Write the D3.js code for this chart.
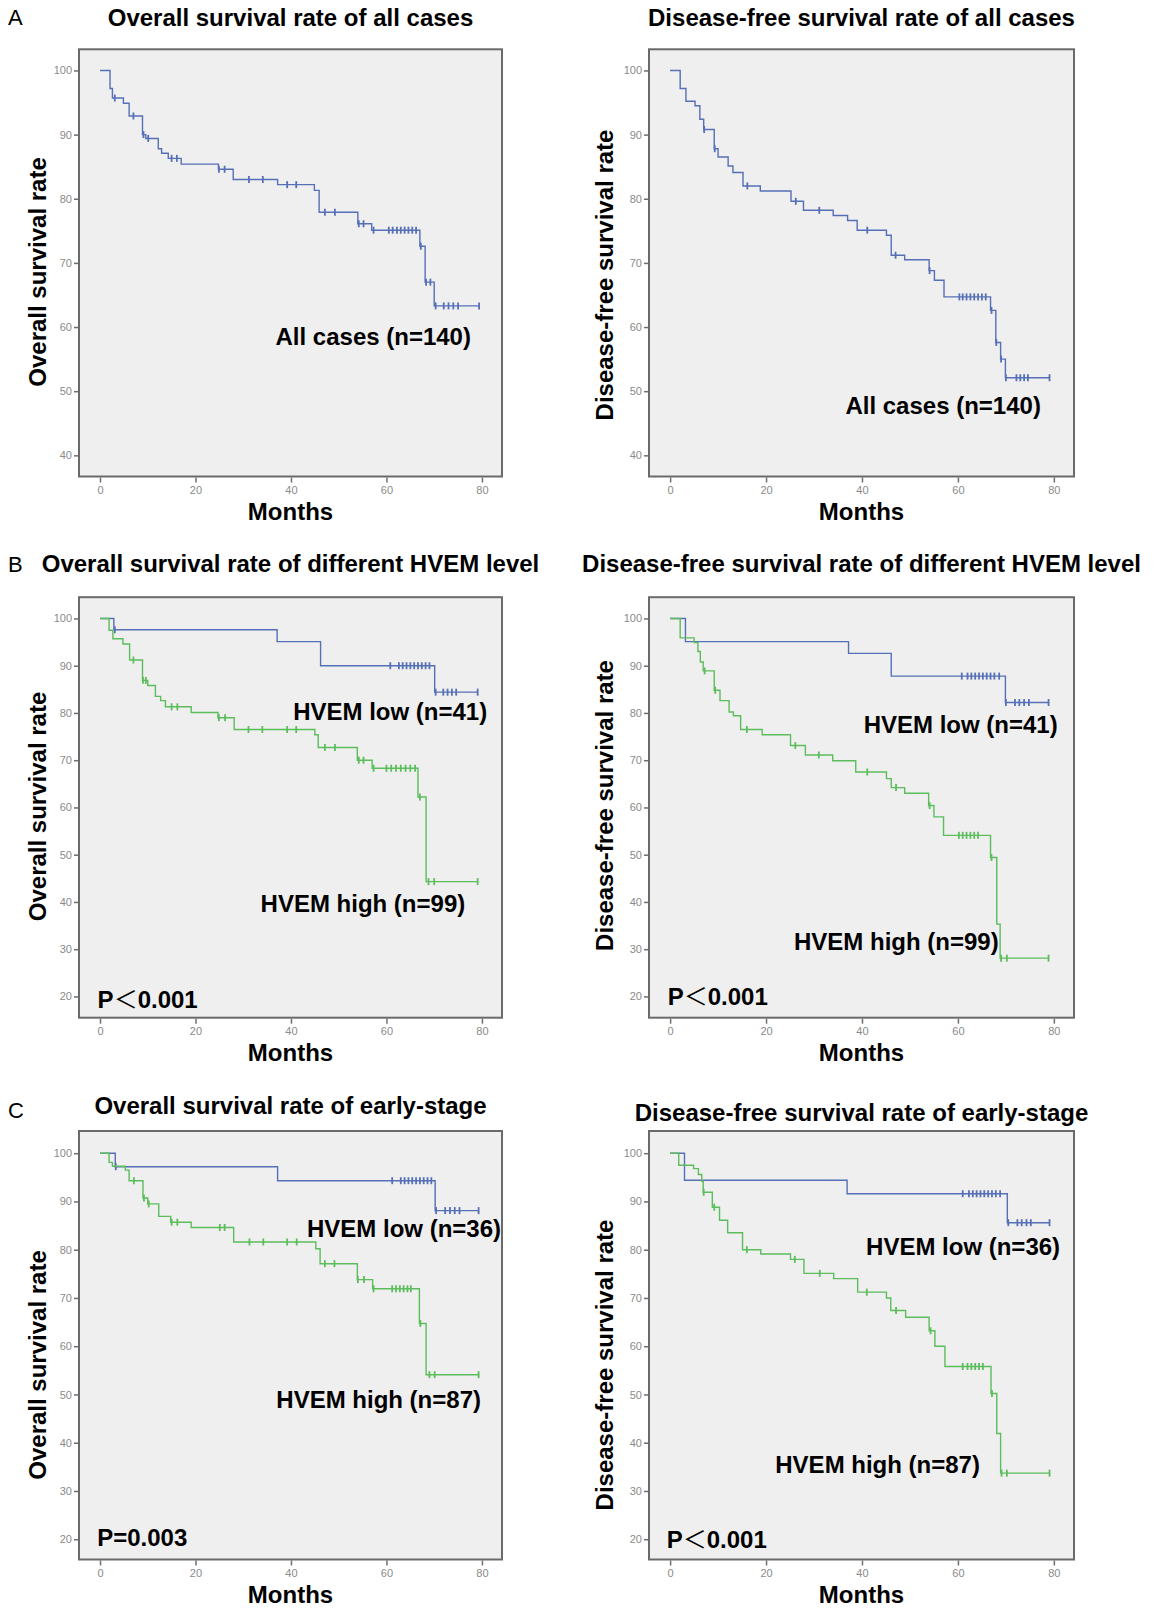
<!DOCTYPE html>
<html>
<head>
<meta charset="utf-8">
<script src="https://cdn.jsdelivr.net/npm/d3@7"></script>
<style>
  body { margin: 0; background: #fff; }
  svg text { font-family: "Liberation Sans", Arial, sans-serif; }
</style>
</head>
<body>
<svg id="fig"></svg>
<script>
// ---- data: [month, survival %] after each drop, plus censor times ----
const monthTicks = [0, 20, 40, 60, 80];
const rateTicksAll = [40, 50, 60, 70, 80, 90, 100];
const rateTicksGroup = [20, 30, 40, 50, 60, 70, 80, 90, 100];

// A: all cases
const osAllSteps = [[0,100],[2.1,97.2],[2.6,95.7],[4.9,94.9],[6.1,92.9],[8.9,90.0],[9.6,89.4],[12.2,87.8],[12.9,87.1],[14.3,86.3],[17.0,85.4],[24.8,84.6],[27.9,83.0],[37.2,82.2],[44.9,81.3],[45.9,77.9],[54.0,76.1],[56.9,75.1],[67.0,72.6],[68.1,67.0],[70.0,63.3]];
const osAllCensor = [3.1,7.0,9.1,10.1,15.0,16.1,24.9,26.1,31.2,34.1,39.2,41.1,47.1,49.2,54.2,55.2,57.3,60.5,61.3,62.2,63.0,63.8,64.6,65.4,66.2,67.2,68.3,69.2,70.3,72.0,73.0,74.0,75.0,79.4];
const dfsAllSteps = [[0,100],[2.1,97.2],[3.3,95.2],[5.2,94.5],[6.2,92.4],[7.0,90.8],[9.2,87.8],[10.0,86.5],[12.1,85.1],[13.1,84.1],[15.2,82.0],[18.8,81.2],[25.2,79.6],[27.8,78.2],[34.0,77.4],[37.0,76.6],[39.0,75.1],[45.1,74.3],[46.1,71.2],[48.9,70.5],[54.0,68.8],[55.1,67.3],[57.1,64.7],[66.8,62.6],[67.9,57.6],[68.9,55.0],[69.9,52.1]];
const dfsAllCensor = [7.1,9.3,16.1,26.2,31.1,41.1,47.0,54.1,60.3,61.0,61.8,62.6,63.4,64.2,65.0,65.8,67.0,68.0,69.0,70.0,72.2,73.0,73.8,74.6,79.1];

// B: HVEM low / high, all cases
const osLowSteps = [[0,100],[2.9,97.6],[37.1,95.1],[46.2,90.0],[70.1,84.4]];
const osLowCensor = [3.1,60.8,62.6,63.4,64.2,65.0,65.8,66.6,67.4,68.2,69.0,70.3,71.9,72.8,73.7,74.6,79.1];
const osHighSteps = [[0,100],[1.9,97.5],[2.7,95.7],[4.8,94.6],[6.2,91.2],[8.9,86.9],[10.0,85.8],[11.6,83.5],[12.7,82.6],[13.7,81.3],[19.1,80.1],[24.7,79.0],[28.1,76.5],[45.0,75.4],[45.7,72.7],[53.9,70.0],[57.0,68.3],[66.6,62.2],[68.3,44.3]];
const osHighCensor = [7.0,9.0,9.6,15.0,16.2,24.9,26.2,31.1,34.0,39.2,41.1,47.1,49.2,54.2,55.2,57.3,60.0,61.0,62.0,63.0,64.0,65.0,66.0,67.0,68.8,70.0,79.1];
const dfsLowSteps = [[0,100],[3.2,95.1],[37.2,92.6],[46.1,87.8],[69.9,82.2]];
const dfsLowCensor = [60.8,62.0,62.8,63.6,64.4,65.2,66.0,66.8,67.6,68.6,70.0,71.9,72.8,73.8,74.8,78.9];
const dfsHighSteps = [[0,100],[2.1,95.9],[5.0,94.9],[5.8,93.0],[6.3,90.8],[6.9,88.9],[9.2,84.8],[10.4,82.6],[12.3,80.2],[13.2,79.4],[14.7,76.5],[19.2,75.4],[25.1,73.1],[28.2,71.1],[33.9,69.9],[38.7,67.5],[45.1,66.1],[46.1,64.2],[48.9,63.0],[53.9,60.4],[55.0,58.0],[57.0,54.1],[66.8,49.4],[68.1,35.3],[68.8,28.1]];
const dfsHighCensor = [7.2,9.4,16.0,26.1,31.0,41.1,47.1,54.1,60.2,61.0,61.8,62.6,63.4,64.2,67.0,69.0,70.2,78.9];

// C: early-stage
const earlyOsLowSteps = [[0,100],[3.2,97.2],[37.2,94.3],[70.2,88.1]];
const earlyOsLowCensor = [3.3,61.2,63.0,63.8,64.6,65.4,66.2,67.0,67.8,68.6,69.4,70.4,72.3,73.3,74.3,75.3,79.3];
const earlyOsHighSteps = [[0,100],[1.9,98.1],[2.6,97.3],[5.3,96.5],[6.1,94.3],[9.0,90.7],[10.0,89.5],[12.3,86.9],[14.8,85.7],[19.1,84.6],[28.0,81.6],[45.2,80.2],[46.1,77.1],[53.9,73.8],[57.1,71.9],[66.9,64.7],[68.3,54.1]];
const earlyOsHighCensor = [7.1,9.2,10.2,15.0,16.2,25.1,26.1,31.3,34.2,39.2,41.2,47.1,49.1,54.0,55.3,57.3,61.2,62.0,62.8,63.6,64.4,65.1,67.1,69.0,70.1,79.3];
const earlyDfsLowSteps = [[0,100],[3.0,94.4],[36.9,91.6],[70.3,85.6]];
const earlyDfsLowCensor = [61.0,62.3,63.1,63.9,64.7,65.5,66.3,67.1,67.9,68.8,70.5,72.4,73.3,74.3,75.2,79.1];
const earlyDfsHighSteps = [[0,100],[1.8,97.5],[4.9,96.8],[5.9,95.6],[6.6,94.2],[6.9,91.9],[8.8,88.8],[10.3,86.1],[12.0,83.5],[15.1,80.0],[18.9,79.1],[25.1,78.0],[27.9,75.1],[34.1,74.0],[39.1,71.2],[45.1,70.0],[46.0,67.4],[49.1,66.0],[54.0,63.2],[55.2,60.0],[57.3,55.8],[66.9,50.2],[68.1,41.9],[68.9,33.7]];
const earlyDfsHighCensor = [7.0,9.2,16.0,26.0,31.2,41.0,47.1,54.3,61.0,62.0,62.8,63.6,64.4,65.2,67.1,69.1,70.2,79.1];

// ---- layout / style ----
const blue = "#5670b8";
const green = "#5cbd5c";
const monthDomain = [-4.4, 84.2];
const leftX = 79, rightX = 649;
const rowA = { y: 49.3, h: 427.2, domain: [36.7, 103.3] };
const rowB = { y: 597.2, h: 420.5, domain: [15.5, 104.5] };
const rowC = { y: 1131, h: 428.5, domain: [15.8, 104.6] };

const panels = [
  { x: leftX, w: 423, row: rowA, ticks: rateTicksAll, letter: "A", letterY: 25,
    title: "Overall survival rate of all cases", titleY: 25.5,
    yLabel: "Overall survival rate", yLabelX: 45.6, yLabelY: 272,
    series: [{ steps: osAllSteps, censor: osAllCensor, end: 79.4, color: blue }],
    notes: [{ text: "All cases (n=140)", at: [77.7, 57.2] }] },
  { x: rightX, w: 425, row: rowA, ticks: rateTicksAll,
    title: "Disease-free survival rate of all cases", titleY: 25.5,
    yLabel: "Disease-free survival rate", yLabelX: 612.6, yLabelY: 275,
    series: [{ steps: dfsAllSteps, censor: dfsAllCensor, end: 79.1, color: blue }],
    notes: [{ text: "All cases (n=140)", at: [77.3, 46.4] }] },
  { x: leftX, w: 423, row: rowB, ticks: rateTicksGroup, letter: "B", letterY: 571.5,
    title: "Overall survival rate of different HVEM level", titleY: 572,
    yLabel: "Overall survival rate", yLabelX: 45.6, yLabelY: 806.5,
    series: [
      { steps: osLowSteps, censor: osLowCensor, end: 79.1, color: blue },
      { steps: osHighSteps, censor: osHighCensor, end: 79.1, color: green }],
    notes: [{ text: "HVEM low (n=41)", at: [81.1, 78.5] },
            { text: "HVEM high (n=99)", at: [76.5, 37.9] }],
    pText: ["P", "＜", "0.001"], pAt: [-0.5, 17.5] },
  { x: rightX, w: 425, row: rowB, ticks: rateTicksGroup,
    title: "Disease-free survival rate of different HVEM level", titleY: 572,
    yLabel: "Disease-free survival rate", yLabelX: 612.6, yLabelY: 805.5,
    series: [
      { steps: dfsLowSteps, censor: dfsLowCensor, end: 79.0, color: blue },
      { steps: dfsHighSteps, censor: dfsHighCensor, end: 78.9, color: green }],
    notes: [{ text: "HVEM low (n=41)", at: [80.8, 75.8] },
            { text: "HVEM high (n=99)", at: [68.5, 29.9] }],
    pText: ["P", "＜", "0.001"], pAt: [-0.5, 18.1] },
  { x: leftX, w: 423, row: rowC, ticks: rateTicksGroup, letter: "C", letterY: 1118,
    title: "Overall survival rate of early-stage", titleY: 1114,
    yLabel: "Overall survival rate", yLabelX: 45.6, yLabelY: 1365,
    series: [
      { steps: earlyOsLowSteps, censor: earlyOsLowCensor, end: 79.3, color: blue },
      { steps: earlyOsHighSteps, censor: earlyOsHighCensor, end: 79.3, color: green }],
    notes: [{ text: "HVEM low (n=36)", at: [84.0, 82.7] },
            { text: "HVEM high (n=87)", at: [79.8, 47.1] }],
    pText: ["P=0.003"], pAt: [-0.6, 18.5] },
  { x: rightX, w: 425, row: rowC, ticks: rateTicksGroup,
    title: "Disease-free survival rate of early-stage", titleY: 1120.5,
    yLabel: "Disease-free survival rate", yLabelX: 612.6, yLabelY: 1365,
    series: [
      { steps: earlyDfsLowSteps, censor: earlyDfsLowCensor, end: 79.1, color: blue },
      { steps: earlyDfsHighSteps, censor: earlyDfsHighCensor, end: 79.1, color: green }],
    notes: [{ text: "HVEM low (n=36)", at: [81.3, 79.0] },
            { text: "HVEM high (n=87)", at: [64.6, 33.7] }],
    pText: ["P", "＜", "0.001"], pAt: [-0.7, 18.25] },
];

const svg = d3.select("#fig").attr("width", 1157).attr("height", 1612);
svg.append("rect").attr("width", 1157).attr("height", 1612).attr("fill", "#fff");

const stepLine = d3.line().curve(d3.curveStepAfter);

// value of the step function at time t (drops at t are already applied)
function stepValue(steps, t) {
  let v = steps[0][1];
  steps.forEach(([s, val]) => { if (s <= t) v = val; });
  return v;
}

function styleAxis(g) {
  g.select(".domain").remove();
  g.selectAll(".tick line").attr("stroke", "#6e6e6e").attr("stroke-width", 1.5);
  g.selectAll(".tick text")
    .attr("fill", "#8a8a8a")
    .style("font-size", "11px")
    .style("font-family", "'Liberation Sans Narrow', 'Liberation Sans', Arial, sans-serif");
}

panels.forEach((p) => {
  const top = p.row.y, h = p.row.h;
  const xScale = d3.scaleLinear().domain(monthDomain).range([p.x, p.x + p.w]);
  const yScale = d3.scaleLinear().domain(p.row.domain).range([top + h, top]);
  const g = svg.append("g");

  // plot background
  g.append("rect")
    .attr("x", p.x).attr("y", top).attr("width", p.w).attr("height", h)
    .attr("fill", "#efefef");

  // survival curves + censor marks
  p.series.forEach((s) => {
    const last = s.steps[s.steps.length - 1][1];
    const pts = s.steps.concat([[s.end, last]]);
    g.append("path")
      .attr("d", stepLine(pts.map((d) => [xScale(d[0]), yScale(d[1])])))
      .attr("fill", "none")
      .attr("stroke", s.color)
      .attr("stroke-width", 1.4);

    g.append("g").selectAll("line")
      .data(s.censor)
      .join("line")
      .attr("x1", (t) => xScale(t)).attr("x2", (t) => xScale(t))
      .attr("y1", (t) => yScale(stepValue(s.steps, t)) - 3.5)
      .attr("y2", (t) => yScale(stepValue(s.steps, t)) + 3.5)
      .attr("stroke", s.color)
      .attr("stroke-width", 1.8);
  });

  // frame
  g.append("rect")
    .attr("x", p.x).attr("y", top).attr("width", p.w).attr("height", h)
    .attr("fill", "none").attr("stroke", "#6a6a6a").attr("stroke-width", 2);

  // axes
  g.append("g")
    .attr("transform", `translate(0,${top + h + 1})`)
    .call(d3.axisBottom(xScale).tickValues(monthTicks).tickSize(5).tickPadding(4))
    .call(styleAxis);
  g.append("g")
    .attr("transform", `translate(${p.x - 1},0)`)
    .call(d3.axisLeft(yScale).tickValues(p.ticks).tickSize(4).tickPadding(2))
    .call(styleAxis);

  const cx = p.x + p.w / 2;

  // titles and labels
  g.append("text")
    .attr("x", cx).attr("y", p.titleY)
    .attr("text-anchor", "middle")
    .style("font-size", "24px").style("font-weight", "bold")
    .text(p.title);

  if (p.letter) {
    g.append("text")
      .attr("x", 8).attr("y", p.letterY)
      .style("font-size", "22px")
      .text(p.letter);
  }

  g.append("text")
    .attr("x", cx).attr("y", top + h + 43.5)
    .attr("text-anchor", "middle")
    .style("font-size", "24px").style("font-weight", "bold")
    .text("Months");

  g.append("text")
    .attr("transform", `translate(${p.yLabelX},${p.yLabelY}) rotate(-90)`)
    .attr("text-anchor", "middle")
    .style("font-size", "24px").style("font-weight", "bold")
    .text(p.yLabel);

  p.notes.forEach((n) => {
    g.append("text")
      .attr("x", xScale(n.at[0])).attr("y", yScale(n.at[1]))
      .attr("text-anchor", "end")
      .style("font-size", "24px").style("font-weight", "bold")
      .text(n.text);
  });

  if (p.pText) {
    const t = g.append("text")
      .attr("x", xScale(p.pAt[0])).attr("y", yScale(p.pAt[1]))
      .style("font-size", "24px").style("font-weight", "bold");
    p.pText.forEach((part) => {
      const span = t.append("tspan").text(part);
      if (part === "＜") {
        span.style("font-weight", "normal")
          .style("font-family", "'Noto Sans CJK SC', sans-serif");
      }
    });
  }
});
</script>
</body>
</html>
